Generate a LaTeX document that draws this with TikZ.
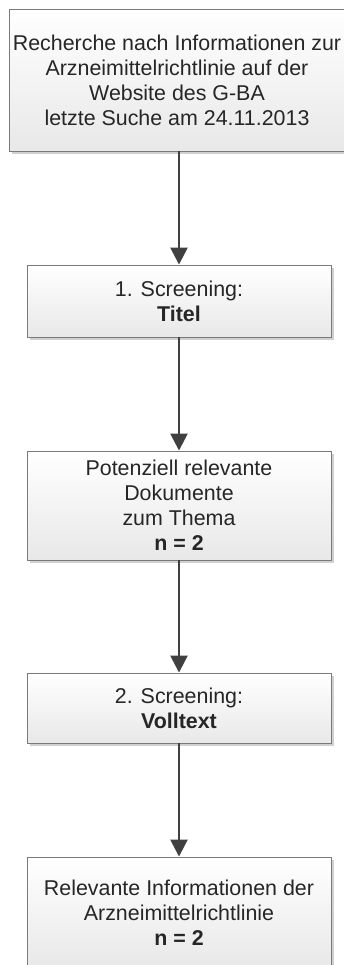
\documentclass[tikz,border=0pt]{standalone}
\usepackage{fontspec}
\setmainfont{Liberation Sans}
\usetikzlibrary{arrows.meta,shadows}
\definecolor{arrowgray}{HTML}{404040}
\definecolor{bordergray}{HTML}{7A7A7A}
\definecolor{shadowgray}{HTML}{D0D0D0}
\tikzset{
  box/.style={draw=bordergray, line width=0.9pt, rectangle, align=center,
    top color=white, bottom color=black!9,
    font=\fontsize{21.4}{25}\selectfont, text=black!85, inner sep=0pt,
    drop shadow={shadow xshift=3pt, shadow yshift=-3pt, fill=shadowgray, opacity=1}},
  flow/.style={draw=arrowgray, fill=arrowgray, line width=2.6pt, -{Triangle[width=17pt,length=17pt]}}
}
\begin{document}
\begin{tikzpicture}[x=1pt,y=1pt]
\useasboundingbox (0,0) rectangle (344,-965);
\node[box, minimum width=336pt, minimum height=142pt] (b1) at (177,-80)
  {Recherche nach Informationen zur\\Arzneimittelrichtlinie auf der\\Website des G-BA\\letzte Suche am 24.11.2013};
\node[box, minimum width=304pt, minimum height=72pt] (b2) at (179,-301)
  {1. Screening:\\\textbf{Titel}};
\node[box, minimum width=304pt, minimum height=109pt] (b3) at (179,-505.5)
  {Potenziell relevante\\Dokumente\\zum Thema\\\textbf{n = 2}};
\node[box, minimum width=304pt, minimum height=70pt] (b4) at (179,-708)
  {2. Screening:\\\textbf{Volltext}};
\node[box, minimum width=304pt, minimum height=111pt] (b5) at (179,-912.5)
  {Relevante Informationen der\\Arzneimittelrichtlinie\\\textbf{n = 2}};
\draw[flow] (b1.south -| b2.north) -- (b2.north);
\draw[flow] (b2.south) -- (b3.north);
\draw[flow] (b3.south) -- (b4.north);
\draw[flow] (b4.south) -- (b5.north);
\end{tikzpicture}
\end{document}
